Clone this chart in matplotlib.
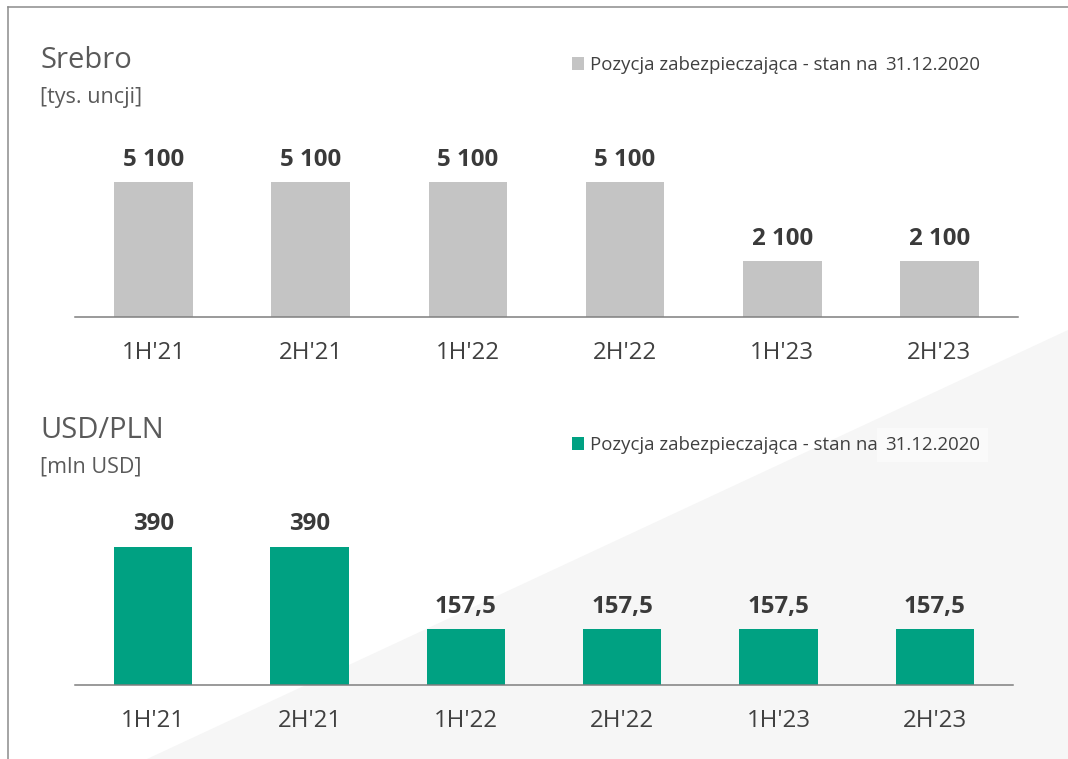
import matplotlib.pyplot as plt
from matplotlib.patches import Polygon
from matplotlib.lines import Line2D

plt.rcParams['font.family'] = ['Open Sans', 'DejaVu Sans']

# Data
periods = ["1H'21", "2H'21", "1H'22", "2H'22", "1H'23", "2H'23"]
silver = [5100, 5100, 5100, 5100, 2100, 2100]       # tys. uncji
usdpln = [390, 390, 157.5, 157.5, 157.5, 157.5]     # mln USD
legend_label = 'Pozycja zabezpieczająca - stan na'
legend_date = '31.12.2020'

GREY = '#c4c4c4'
GREEN = '#00a182'
TXT = '#404040'

W, H = 1068, 759
fig = plt.figure(figsize=(W / 100, H / 100), dpi=100)
fig.patch.set_facecolor('white')


def box(x0, y0, x1, y1):
    # pixel box (top-left origin) -> figure fraction rect
    return [x0 / W, 1 - y1 / H, (x1 - x0) / W, (y1 - y0) / H]


def fmt(v):
    if float(v).is_integer():
        return f'{int(v):,}'.replace(',', ' ')
    return f'{v}'.replace('.', ',')


# light diagonal wedge in the background
tri = Polygon([(147 / W, 0), (1, 0), (1, 1 - 330 / H)], closed=True,
              transform=fig.transFigure, facecolor='#f6f6f6', edgecolor='none', zorder=-10)
fig.patches.append(tri)

# frame lines (left and top)
fig.lines.append(Line2D([8 / W, 8 / W], [0, 1 - 7 / H], transform=fig.transFigure,
                        color='#8c8c8c', lw=1.1))
fig.lines.append(Line2D([8 / W, 1], [1 - 7 / H, 1 - 7 / H], transform=fig.transFigure,
                        color='#8c8c8c', lw=1.1))


def panel(rect, values, color, ymax, title, unit, title_y, leg_y, date_box=False):
    ax = fig.add_axes(rect)
    ax.set_facecolor('none')
    x = range(len(periods))
    bars = ax.bar(x, values, width=0.5, color=color, label=legend_label, zorder=2)
    ax.bar_label(bars, labels=[fmt(v) for v in values], padding=7.5,
                 fontsize=17.3, fontweight='bold', color='#3a3a3a')
    ax.set_xlim(-0.5, len(periods) - 0.5)
    ax.set_ylim(0, ymax)
    ax.set_xticks(list(x))
    ax.set_xticklabels(periods, fontsize=17.3, color=TXT)
    ax.tick_params(axis='x', length=0, pad=17)
    ax.set_yticks([])
    for s in ['top', 'right', 'left']:
        ax.spines[s].set_visible(False)
    ax.spines['bottom'].set_color('#7f7f7f')
    ax.spines['bottom'].set_linewidth(1.1)

    fig.text(40 / W, 1 - title_y / H, title, fontsize=21, color='#5a5a5a', va='center')
    fig.text(40 / W, 1 - (title_y + 36) / H, unit, fontsize=15.5, color='#5a5a5a', va='center')

    ax.legend(loc='center left', bbox_to_anchor=(572 / W, 1 - leg_y / H),
              bbox_transform=fig.transFigure, frameon=False, fontsize=13.4,
              labelcolor=TXT, handlelength=0.65, handleheight=0.65, handletextpad=0.3,
              borderpad=0, borderaxespad=0)
    bb = dict(facecolor='white', edgecolor='none', alpha=0.45, pad=6) if date_box else None
    fig.text(885 / W, 1 - leg_y / H, legend_date, fontsize=13.4, color=TXT,
             va='center', bbox=bb)
    return ax


panel(box(75, 110, 1018, 317), silver, GREY, 207 / 0.02647,
      'Srebro', '[tys. uncji]', 61, 65)
panel(box(75, 480, 1013, 685), usdpln, GREEN, 205 / 0.3545,
      'USD/PLN', '[mln USD]', 431, 445, date_box=True)

fig.savefig('out.png', dpi=100)
